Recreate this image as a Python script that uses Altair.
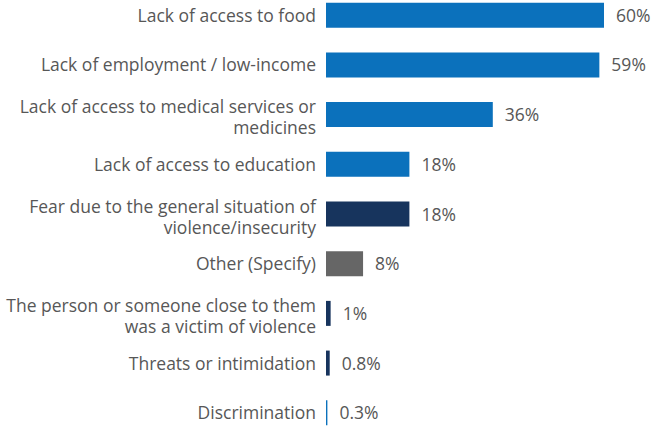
import altair as alt
import pandas as pd

categories = [
    "Lack of access to food",
    "Lack of employment / low-income",
    "Lack of access to medical services or\nmedicines",
    "Lack of access to education",
    "Fear due to the general situation of\nviolence/insecurity",
    "Other (Specify)",
    "The person or someone close to them\nwas a victim of violence",
    "Threats or intimidation",
    "Discrimination",
]
values = [60, 59, 36, 18, 18, 8, 1, 0.8, 0.3]
value_labels = ["60%", "59%", "36%", "18%", "18%", "8%", "1%", "0.8%", "0.3%"]
groups = ["blue", "blue", "blue", "blue", "navy", "gray", "navy", "navy", "blue"]

df = pd.DataFrame({
    "cat": categories,
    "value": values,
    "vlabel": value_labels,
    "group": groups,
})

W = 326
H = 428
FONT = "Open Sans"
TXT = "#575757"
LH = 21
FS = 17.5

y = alt.Y("cat:N", sort=categories, axis=None,
          scale=alt.Scale(paddingInner=0.497, paddingOuter=0.055))
x = alt.X("value:Q", axis=None,
          scale=alt.Scale(domain=[0, 60 * W / 278], nice=False, zero=True))

base = alt.Chart(df)

bars = base.mark_bar().encode(
    x=x,
    y=y,
    color=alt.Color("group:N", legend=None,
                    scale=alt.Scale(domain=["blue", "navy", "gray"],
                                    range=["#0b71bc", "#17345d", "#666666"])),
)

vals = base.mark_text(align="left", baseline="middle", dx=12, dy=1.5,
                      font=FONT, fontSize=FS, color=TXT).encode(
    x=x, y=y, text="vlabel:N")

single = base.transform_filter("indexof(datum.cat, '\\n') < 0").mark_text(
    align="right", baseline="middle", dy=1.5, font=FONT, fontSize=FS, color=TXT
).encode(x=alt.value(-10), y=y, text="cat:N")

double = base.transform_filter("indexof(datum.cat, '\\n') >= 0").mark_text(
    align="right", baseline="middle", lineBreak="\n", lineHeight=LH,
    dy=-LH / 2 + 4, font=FONT, fontSize=FS, color=TXT
).encode(x=alt.value(-10), y=y, text="cat:N")

chart = alt.layer(bars, vals, single, double).properties(
    width=W, height=H,
    autosize=alt.AutoSizeParams(type="none"),
    padding={"left": 326, "top": 0, "right": 0, "bottom": 0},
).configure_view(stroke=None)

chart.save("out.html", embed_options={"renderer": "svg", "actions": False})
